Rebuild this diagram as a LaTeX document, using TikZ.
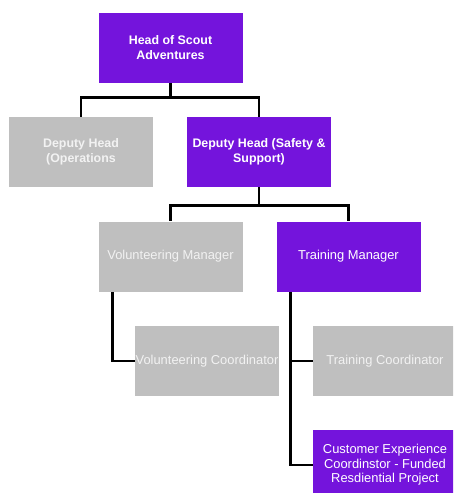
\documentclass[tikz,border=0pt]{standalone}
\usepackage{fontspec}
\setmainfont{Liberation Sans}
\usetikzlibrary{backgrounds}
\definecolor{scoutpurple}{RGB}{116,20,220}
\definecolor{boxgrey}{RGB}{191,191,191}
\definecolor{fadedtext}{RGB}{242,242,242}
\begin{document}
\begin{tikzpicture}[x=1pt,y=-1pt,
  role/.style={rectangle, minimum width=144pt, minimum height=70pt,
    inner sep=0pt, align=center, font=\fontsize{12.9}{14.5}\selectfont},
  active/.style={role, fill=scoutpurple, text=white},
  inactive/.style={role, fill=boxgrey, text=fadedtext},
  lead/.style={font=\fontsize{12.4}{14.5}\selectfont\bfseries},
  link/.style={draw=black, line width=2.6pt}]
\useasboundingbox (0,0) rectangle (453,493);
\clip (0,0) rectangle (453,493);

% roles
\node[active,lead]   (head)  at (170.5,47.5) {Head of Scout\\Adventures};
\node[inactive,lead] (dops)  at (81,152)     {Deputy Head\\(Operations};
\node[active,lead]   (dsafe) at (259,152)    {Deputy Head (Safety \&\\Support)};
\node[inactive]      (vm)    at (170.5,256.5) {Volunteering Manager};
\node[active]        (tm)    at (348.5,256.5) {Training Manager};
\node[inactive]      (vc)    at (207,361)    {Volunteering Coordinator};
\node[inactive]      (tc)    at (385,361)    {Training Coordinator};
\node[active]        (ce)    at (385,465)    {Customer Experience\\Coordinstor - Funded\\Resdiential Project};

% reporting lines
\begin{pgfonlayer}{background}
\draw[link] (head.south) -- ++(0,15) -| (dops.north);
\draw[link] (head.south) -- ++(0,15) -| (dsafe.north);
\draw[link] (dsafe.south) -- ++(0,18) -| (vm.north);
\draw[link] (dsafe.south) -- ++(0,18) -| (tm.north);
\draw[link] ([xshift=14pt]vm.south west) |- (vc.west);
\draw[link] ([xshift=14pt]tm.south west) |- (tc.west);
\draw[link] ([xshift=14pt]tm.south west) |- (ce.west);
\end{pgfonlayer}
\end{tikzpicture}
\end{document}
